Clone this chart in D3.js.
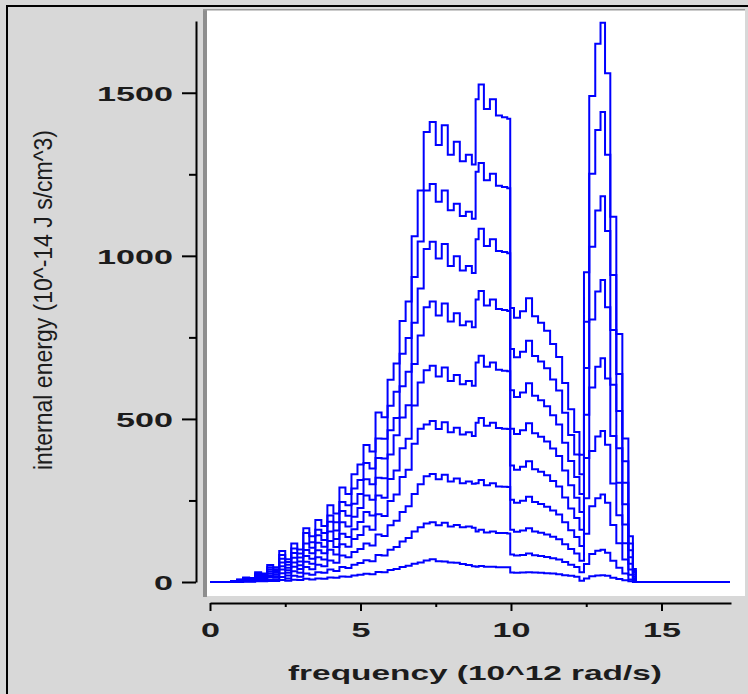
<!DOCTYPE html>
<html>
<head>
<meta charset="utf-8">
<script src="https://cdn.jsdelivr.net/npm/d3@7"></script>
<style>
  html, body { margin: 0; padding: 0; background: #d8d8d8; }
  svg { display: block; }
</style>
</head>
<body>
<div class="graph"></div>
<script>
// frequency grid (10^12 rad/s)
const freq = [0, 0.6, 0.8, 1.0, 1.2, 1.4, 1.6, 1.8, 2.0, 2.2, 2.4, 2.6, 2.8, 3.0, 3.2, 3.4, 3.6, 3.8, 4.0, 4.2,
  4.4, 4.6, 4.8, 5.0, 5.2, 5.4, 5.6, 5.8, 6.0, 6.2, 6.4, 6.6, 6.8, 7.0,
  7.2, 7.4, 7.6, 7.8, 8.0, 8.2, 8.4, 8.6, 8.8,
  8.85, 9.0, 9.2, 9.4, 9.6, 9.8, 9.95,
  10.0, 10.2, 10.4, 10.6, 10.8, 11.0, 11.2, 11.4, 11.6, 11.8, 12.0, 12.2,
  12.35,
  12.5, 12.7, 12.9, 13.05, 13.2, 13.4, 13.6, 13.8, 14.0, 14.1,
  14.2, 17.27];

// internal energy curves, top to bottom
const curve1 = [0, 0, 3, 8, 14, 12, 30, 26, 52, 45, 95, 70, 118, 100, 165, 140, 190, 172, 235, 210,
  290, 270, 330, 360, 420, 400, 520, 505, 620, 670, 800, 860, 1060, 1200,
  1380, 1410, 1340, 1400, 1310, 1350, 1290, 1310, 1280,
  1480, 1525, 1450, 1480, 1430, 1425, 1420,
  840, 810, 830, 870, 815, 795, 770, 730, 690, 610, 530, 460,
  390,
  950, 1490, 1650, 1715, 1560, 1120, 760, 440, 140, 40,
  0, 0];
const curve2 = [0, 0, 3, 7, 12, 10, 26, 23, 45, 39, 83, 61, 103, 87, 150, 122, 160, 150, 204, 183,
  245, 235, 287, 313, 365, 348, 440, 439, 540, 583, 700, 748, 935, 1044,
  1200, 1220, 1166, 1200, 1140, 1160, 1122, 1135, 1114,
  1258, 1285, 1232, 1252, 1215, 1211, 1207,
  714, 689, 706, 740, 693, 676, 655, 621, 587, 519, 451, 391,
  330,
  798, 1252, 1386, 1441, 1310, 941, 638, 370, 118, 34,
  0, 0];
const curve3 = [0, 0, 2, 6, 11, 9, 23, 20, 39, 34, 71, 53, 89, 75, 118, 105, 143, 129, 185, 158,
  218, 203, 240, 270, 315, 300, 380, 379, 465, 503, 600, 645, 795, 900,
  1021, 1043, 992, 1036, 969, 999, 955, 969, 947,
  1051, 1083, 1030, 1051, 1015, 1012, 1008,
  588, 567, 581, 609, 571, 557, 539, 511, 483, 427, 371, 322,
  270,
  656, 1028, 1139, 1183, 1076, 773, 524, 304, 97, 28,
  0, 0];
const curve4 = [0, 0, 2, 5, 9, 8, 19, 16, 33, 28, 60, 44, 74, 63, 98, 88, 120, 108, 155, 132,
  183, 170, 200, 227, 265, 252, 320, 318, 391, 450, 504, 542, 668, 756,
  842, 860, 817, 854, 799, 824, 787, 799, 781,
  866, 892, 848, 866, 837, 834, 831,
  470, 454, 465, 487, 456, 445, 431, 409, 386, 342, 297, 258,
  215,
  513, 805, 891, 926, 842, 605, 410, 238, 76, 22,
  0, 0];
const curve5 = [0, 0, 2, 4, 7, 6, 15, 13, 27, 23, 48, 36, 60, 51, 80, 71, 97, 88, 126, 107,
  148, 138, 162, 184, 215, 204, 265, 258, 316, 342, 410, 439, 541, 612,
  649, 663, 630, 658, 616, 635, 606, 616, 602,
  673, 694, 660, 673, 651, 648, 646,
  357, 344, 353, 370, 346, 338, 327, 310, 293, 259, 225, 196,
  160,
  380, 596, 660, 686, 624, 448, 304, 176, 56, 16,
  0, 0];
const curve6 = [0, 0, 1, 3, 6, 5, 12, 10, 21, 18, 38, 28, 47, 40, 62, 56, 76, 69, 99, 84,
  116, 108, 132, 144, 170, 160, 208, 202, 248, 268, 322, 344, 424, 470,
  483, 494, 469, 490, 459, 473, 452, 459, 448,
  488, 503, 479, 488, 472, 470, 469,
  252, 243, 249, 261, 245, 239, 231, 219, 207, 183, 159, 138,
  110,
  257, 402, 446, 463, 421, 302, 205, 119, 38, 11,
  0, 0];
const curve7 = [0, 0, 1, 2, 4, 3, 8, 7, 15, 13, 27, 20, 33, 28, 46, 39, 53, 48, 66, 59,
  81, 76, 92, 101, 118, 112, 146, 141, 174, 188, 215, 232, 270, 300,
  324, 331, 315, 329, 308, 317, 303, 308, 301,
  303, 313, 297, 303, 293, 292, 291,
  160, 154, 158, 165, 155, 151, 146, 139, 131, 116, 101, 87,
  65,
  148, 232, 257, 268, 243, 175, 119, 69, 22, 6,
  0, 0];
const curve8 = [0, 0, 0, 1, 2, 2, 5, 4, 8, 7, 15, 11, 19, 16, 26, 22, 30, 28, 38, 34,
  46, 43, 53, 58, 67, 64, 83, 81, 99, 107, 124, 135, 155, 168,
  179, 183, 174, 182, 170, 175, 168, 170, 166,
  155, 160, 152, 155, 150, 150, 149,
  84, 81, 83, 87, 82, 80, 77, 73, 69, 61, 53, 46,
  30,
  55, 86, 96, 99, 90, 65, 44, 26, 8, 2,
  0, 0];
const curve9 = [0, 0, 0, 0, 1, 1, 2, 2, 3, 3, 6, 4, 7, 6, 10, 8, 11, 10, 14, 13,
  17, 16, 20, 22, 25, 24, 31, 30, 37, 40, 46, 50, 56, 60,
  66, 70, 64, 63, 60, 59, 55, 52, 48,
  47, 49, 47, 47, 45, 45, 45,
  29, 28, 29, 30, 29, 28, 27, 26, 24, 21, 19, 16,
  4,
  11, 18, 20, 21, 19, 13, 9, 5, 2, 0,
  0, 0];

const yMajor = [0, 500, 1000, 1500];
const yMinor = [250, 750, 1250];
const xMajor = [0, 5, 10, 15];
const xMinor = [2.5, 7.5, 12.5];

function displayGraph() {
  const w = 748;
  const h = 694;
  const series = [curve1, curve2, curve3, curve4, curve5, curve6, curve7, curve8, curve9];
  const font = "'Liberation Sans', Arial, sans-serif";

  const svg = d3.select('.graph')
    .append('svg')
    .attr('width', w)
    .attr('height', h);

  svg.append('rect')
    .attr('width', w)
    .attr('height', h)
    .attr('fill', '#d8d8d8');

  // outer frame (left + top)
  svg.append('path')
    .attr('d', `M7,${h} V6 H${w}`)
    .attr('fill', 'none')
    .attr('stroke', '#000')
    .attr('stroke-width', 2);

  // white plot panel with sunken edge
  svg.append('rect')
    .attr('x', 207)
    .attr('y', 10)
    .attr('width', 538)
    .attr('height', 586)
    .attr('fill', '#fff');
  svg.append('rect')
    .attr('x', 203)
    .attr('y', 9)
    .attr('width', 4)
    .attr('height', 588)
    .attr('fill', '#8e8e8e');
  svg.append('rect')
    .attr('x', 203)
    .attr('y', 9)
    .attr('width', 542)
    .attr('height', 1.5)
    .attr('fill', '#9a9a9a');

  const xScale = d3.scaleLinear()
    .domain([0, 17.31])
    .range([210, 731]);
  const yScale = d3.scaleLinear()
    .domain([0, 1720])
    .range([582, 21]);

  // curves
  const line = d3.line()
    .x((d, i) => xScale(freq[i]))
    .y((d) => yScale(d))
    .curve(d3.curveStep);

  svg.selectAll('path.curve')
    .data(series)
    .enter()
    .append('path')
    .attr('class', 'curve')
    .attr('d', line)
    .attr('fill', 'none')
    .attr('stroke', '#0000ff')
    .attr('stroke-width', 2);

  // y axis
  const yAxis = svg.append('g')
    .attr('transform', 'translate(196, 0)')
    .call(d3.axisLeft(yScale)
      .tickValues(yMajor)
      .tickSize(14)
      .tickSizeOuter(0)
      .tickPadding(9)
      .tickFormat(d3.format('d')));
  svg.append('g')
    .attr('transform', 'translate(196, 0)')
    .call(d3.axisLeft(yScale)
      .tickValues(yMinor)
      .tickSize(7)
      .tickFormat(''))
    .select('.domain').remove();

  // x axis
  const xAxis = svg.append('g')
    .attr('transform', 'translate(0, 603)')
    .call(d3.axisBottom(xScale)
      .tickValues(xMajor)
      .tickSize(8)
      .tickSizeOuter(0)
      .tickFormat(d3.format('d')));
  svg.append('g')
    .attr('transform', 'translate(0, 603)')
    .call(d3.axisBottom(xScale)
      .tickValues(xMinor)
      .tickSize(4)
      .tickFormat(''))
    .select('.domain').remove();

  svg.selectAll('.domain, .tick line')
    .attr('stroke', '#000')
    .attr('stroke-width', 2);

  svg.selectAll('.tick text')
    .attr('font-family', font)
    .attr('font-weight', 'bold')
    .attr('font-size', 21)
    .attr('fill', '#1c1c1c')
    .attr('lengthAdjust', 'spacingAndGlyphs')
    .attr('textLength', function () { return this.textContent.length * 19; });

  yAxis.selectAll('.tick text')
    .attr('dy', '0.36em');
  xAxis.selectAll('.tick text')
    .attr('y', 34)
    .attr('dy', 0);

  // axis titles
  svg.append('text')
    .attr('x', 475)
    .attr('y', 680)
    .attr('text-anchor', 'middle')
    .attr('font-family', font)
    .attr('font-weight', 'bold')
    .attr('font-size', 21)
    .attr('fill', '#1c1c1c')
    .attr('textLength', 374)
    .attr('lengthAdjust', 'spacingAndGlyphs')
    .text('frequency (10^12 rad/s)');

  svg.append('text')
    .attr('transform', 'translate(52, 300) rotate(-90) scale(1, 1.15)')
    .attr('text-anchor', 'middle')
    .attr('font-family', font)
    .attr('font-size', 22)
    .attr('fill', '#1c1c1c')
    .attr('textLength', 340)
    .attr('lengthAdjust', 'spacingAndGlyphs')
    .text('internal energy (10^-14 J s/cm^3)');
}

displayGraph();
</script>
</body>
</html>
